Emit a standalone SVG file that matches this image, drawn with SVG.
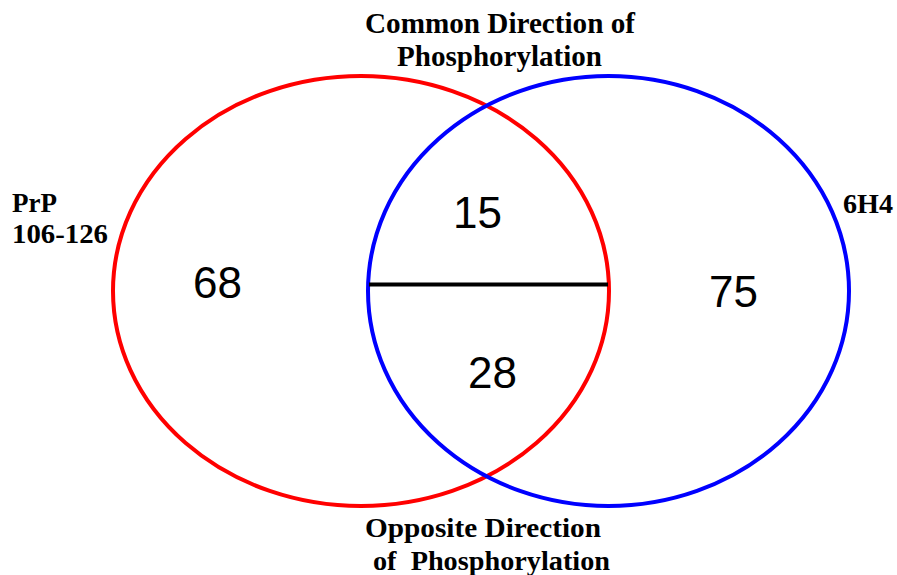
<svg xmlns="http://www.w3.org/2000/svg" width="897" height="575" viewBox="0 0 897 575">
<style>
.lbl{font-family:"Liberation Serif","Times New Roman",serif;font-weight:bold;fill:#000}
.num{font-family:"Liberation Sans",Arial,sans-serif;font-size:44px;fill:#000}
.set{fill:none;stroke-width:4}
</style>
<rect width="897" height="575" fill="#fff"/>
<g id="set-prp">
<ellipse class="set" cx="361" cy="291" rx="248" ry="215" stroke="#ff0000"/>
</g>
<g id="set-6h4">
<ellipse class="set" cx="608.5" cy="291" rx="240.5" ry="215" stroke="#0000ff"/>
</g>
<g id="connectors">
<line x1="369" y1="284.5" x2="608" y2="284.5" stroke="#000" stroke-width="4"/>
</g>
<g id="labels">
<text class="lbl" x="365" y="33" font-size="29" textLength="270" lengthAdjust="spacingAndGlyphs">Common Direction of</text>
<text class="lbl" x="397" y="66" font-size="29" textLength="205" lengthAdjust="spacingAndGlyphs">Phosphorylation</text>
<text class="lbl" x="12" y="212" font-size="27">PrP</text>
<text class="lbl" x="12" y="243" font-size="27" textLength="96" lengthAdjust="spacingAndGlyphs">106-126</text>
<text class="lbl" x="843" y="213" font-size="27" textLength="50" lengthAdjust="spacingAndGlyphs">6H4</text>
<text class="lbl" x="365" y="537" font-size="27" textLength="236" lengthAdjust="spacingAndGlyphs">Opposite Direction</text>
<text class="lbl" x="373" y="570" font-size="27" textLength="237" lengthAdjust="spacingAndGlyphs" xml:space="preserve">of  Phosphorylation</text>
</g>
<g id="counts">
<text class="num" x="193" y="298">68</text>
<text class="num" x="453" y="228">15</text>
<text class="num" x="709" y="307">75</text>
<text class="num" x="468" y="388">28</text>
</g>
</svg>
